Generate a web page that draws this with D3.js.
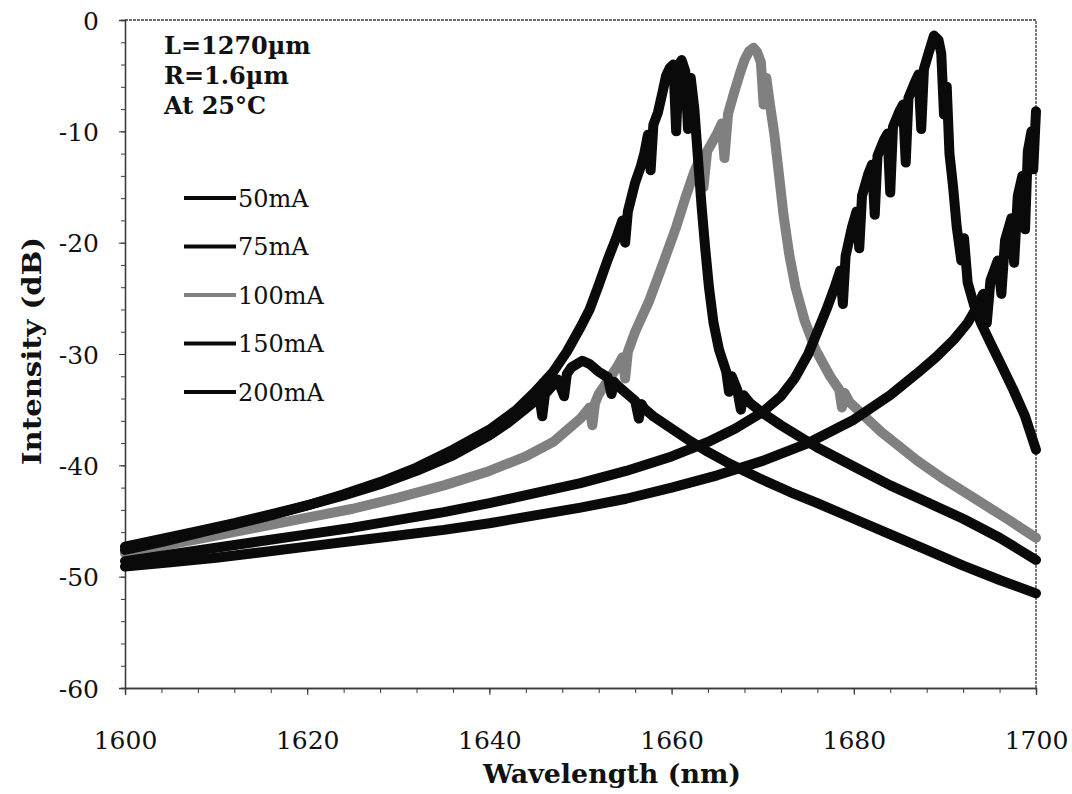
<!DOCTYPE html>
<html>
<head>
<meta charset="utf-8">
<script src="https://cdn.jsdelivr.net/npm/d3@7"></script>
<style>
  html, body { margin: 0; padding: 0; background: #fff; }
  svg { display: block; }
  .tick text { font-family: "DejaVu Serif", serif; font-size: 25px; fill: #111; }
</style>
</head>
<body>
<svg id="chart" width="1072" height="794"></svg>
<script>
// Axis ticks
const wavelengthTicks = [1600, 1620, 1640, 1660, 1680, 1700];
const intensityTicks = [0, -10, -20, -30, -40, -50, -60];

// Drive currents (legend order) and the colour used for each trace
const currents = ["50mA", "75mA", "100mA", "150mA", "200mA"];
const traceColors = ["#0a0a0a", "#0a0a0a", "#808080", "#0a0a0a", "#0a0a0a"];

// Header lines of the annotation box
const conditions = ["L=1270\u00b5m", "R=1.6\u00b5m", "At 25\u00b0C"];

// Emission spectra: [wavelength (nm), intensity (dB)]
const spectrum50mA = [
  [1600,-47.3],[1604,-46.6],[1608,-45.9],[1612,-45.2],[1616,-44.4],[1620,-43.6],[1624,-42.7],
  [1628,-41.7],[1632,-40.5],[1636,-39.1],[1640,-37.3],[1642,-36.2],[1644,-34.9],[1645.5,-33.9],
  [1645.8,-35.6],[1646.1,-33.6],[1647.5,-32.3],[1648.2,-33.8],[1648.5,-31.8],[1649,-31.2],
  [1650.2,-30.6],[1651,-30.9],[1652,-31.6],[1653,-32.1],[1653.4,-33.6],[1653.7,-32.5],[1654,-32.8],
  [1655,-33.5],[1656,-34.2],[1656.4,-35.8],[1656.7,-34.5],[1657,-34.9],[1658,-35.6],[1660,-36.7],
  [1662,-37.8],[1664,-38.8],[1666,-39.7],[1668,-40.5],[1670,-41.3],[1673,-42.4],[1676,-43.4],
  [1680,-44.8],[1684,-46.2],[1688,-47.6],[1692,-49.0],[1696,-50.3],[1700,-51.5]
];

const spectrum75mA = [
  [1600,-47.6],[1604,-46.9],[1608,-46.1],[1612,-45.3],[1616,-44.5],[1620,-43.6],[1624,-42.6],
  [1628,-41.5],[1632,-40.2],[1636,-38.6],[1640,-36.8],[1643,-35.0],[1645,-33.4],[1647,-31.6],
  [1648.5,-29.8],[1650,-27.6],[1651,-26.0],[1652,-23.8],[1653,-21.5],[1654,-19.4],[1654.6,-18.0],
  [1654.9,-20.0],[1655.2,-17.2],[1656,-14.6],[1656.6,-13.2],[1657,-12.0],[1657.4,-10.3],
  [1657.7,-13.5],[1658,-9.4],[1658.5,-8.3],[1659,-6.5],[1659.4,-5.0],[1659.8,-4.3],[1660.2,-4.0],
  [1660.5,-10.0],[1660.8,-4.0],[1661.1,-3.6],[1661.5,-4.6],[1661.8,-9.8],[1662.1,-5.2],
  [1662.5,-8.0],[1662.9,-12.5],[1663.3,-16.8],[1663.7,-20.6],[1664.1,-24.0],[1664.6,-27.2],
  [1665.2,-29.6],[1666,-31.6],[1666.3,-33.4],[1666.6,-32.0],[1667.2,-33.2],[1667.6,-35.0],
  [1667.9,-33.7],[1668.6,-34.4],[1670,-35.3],[1672,-36.4],[1676,-38.4],[1680,-40.1],
  [1684,-41.8],[1688,-43.3],[1692,-44.8],[1696,-46.5],[1700,-48.5]
];

const spectrum100mA = [
  [1600,-47.9],[1605,-47.1],[1610,-46.3],[1615,-45.5],[1620,-44.7],[1625,-43.9],[1630,-42.9],
  [1635,-41.8],[1640,-40.5],[1644,-39.2],[1647,-37.9],[1650,-35.8],[1651,-34.8],[1651.3,-36.4],
  [1651.6,-34.4],[1652,-33.6],[1654,-31.2],[1654.6,-30.3],[1654.9,-32.2],[1655.2,-29.8],
  [1656,-28.0],[1657.5,-25.3],[1659,-22.0],[1660.5,-18.6],[1661.5,-16.0],[1662.5,-13.6],
  [1663.2,-12.3],[1663.5,-15.0],[1663.9,-11.8],[1665,-10.2],[1665.5,-9.3],[1665.8,-12.4],
  [1666.2,-8.4],[1666.9,-6.4],[1667.5,-4.8],[1668,-3.6],[1668.5,-2.8],[1669,-2.5],[1669.4,-2.9],
  [1669.8,-3.8],[1670.1,-7.6],[1670.4,-5.2],[1670.8,-7.6],[1671.3,-10.4],[1671.8,-14.0],
  [1672.3,-17.6],[1672.9,-21.0],[1673.6,-24.0],[1674.6,-27.0],[1675.8,-29.6],[1677.4,-32.0],
  [1678.4,-33.2],[1678.7,-34.8],[1679,-33.5],[1679.5,-34.3],[1683,-37.0],[1687,-39.6],
  [1690,-41.3],[1693.5,-43.1],[1697,-44.9],[1700,-46.5]
];

const spectrum150mA = [
  [1600,-48.6],[1605,-48.0],[1610,-47.4],[1615,-46.8],[1620,-46.2],[1625,-45.6],[1630,-44.9],
  [1635,-44.2],[1640,-43.4],[1645,-42.5],[1650,-41.6],[1655,-40.5],[1660,-39.2],[1664,-37.9],
  [1667,-36.7],[1670,-35.2],[1672,-33.8],[1673.5,-32.2],[1675,-30.0],[1676,-28.0],[1677,-26.0],
  [1677.9,-24.0],[1678.5,-22.5],[1678.8,-25.5],[1679.1,-21.2],[1679.8,-18.6],[1680.3,-17.2],
  [1680.6,-20.5],[1680.9,-15.8],[1681.6,-13.8],[1682,-13.0],[1682.3,-17.5],[1682.6,-12.2],
  [1683.3,-10.8],[1683.7,-10.2],[1684,-15.5],[1684.3,-9.6],[1685,-8.2],[1685.4,-7.6],
  [1685.7,-12.8],[1686,-7.0],[1686.7,-5.6],[1687.1,-4.9],[1687.4,-9.8],[1687.7,-4.4],
  [1688.2,-3.0],[1688.8,-1.4],[1689.3,-1.8],[1689.6,-3.0],[1689.9,-8.5],[1690.2,-6.0],
  [1690.5,-12.0],[1690.9,-15.0],[1691.3,-18.6],[1691.8,-21.6],[1692.1,-19.6],[1692.5,-23.6],
  [1693.2,-25.6],[1694,-27.3],[1695,-29.0],[1696.2,-31.0],[1697.5,-33.2],[1698.8,-35.6],[1700,-38.6]
];

const spectrum200mA = [
  [1600,-49.1],[1605,-48.7],[1610,-48.3],[1615,-47.8],[1620,-47.3],[1625,-46.8],[1630,-46.3],
  [1635,-45.8],[1640,-45.2],[1645,-44.5],[1650,-43.8],[1655,-43.0],[1660,-42.0],[1665,-40.9],
  [1670,-39.6],[1675,-38.0],[1680,-35.9],[1684,-33.7],[1687,-31.7],[1689,-30.3],[1691,-28.7],
  [1692.5,-27.2],[1693.5,-25.8],[1694.2,-24.6],[1694.6,-27.2],[1695,-23.4],[1695.8,-21.6],
  [1696.2,-24.6],[1696.6,-19.8],[1697.3,-17.8],[1697.6,-21.8],[1698,-15.8],[1698.5,-14.0],
  [1698.8,-18.8],[1699.1,-11.8],[1699.5,-10.0],[1699.7,-13.4],[1700,-8.2]
];

const spectra = [spectrum50mA, spectrum75mA, spectrum100mA, spectrum150mA, spectrum200mA];

// ---- layout ----
const width = 1072, height = 794;
const margin = { top: 20, right: 36, bottom: 106, left: 125 };
const svg = d3.select("#chart");

const x = d3.scaleLinear().domain([1600, 1700]).range([margin.left, width - margin.right]);
const y = d3.scaleLinear().domain([-60, 0]).range([height - margin.bottom, margin.top]);

const axisColor = "#3a3a3a";

// plot frame (top and right edges)
svg.append("path")
  .attr("d", `M${x(1600)},${y(0)}H${x(1700)}V${y(-60)}`)
  .attr("fill", "none").attr("stroke", axisColor).attr("stroke-width", 1.3)
  .attr("stroke-dasharray", "3,1");

// minor x ticks every 4 nm
const xMinor = svg.append("g").attr("transform", `translate(0,${y(-60)})`)
  .call(d3.axisBottom(x).tickValues(d3.range(1600, 1701, 4)).tickSize(5).tickFormat(""));
// major x ticks and labels
const xMajor = svg.append("g").attr("transform", `translate(0,${y(-60)})`)
  .call(d3.axisBottom(x).tickValues(wavelengthTicks).tickSize(7).tickPadding(36)
    .tickFormat(d => String(d)));

// minor y ticks every 2 dB
const yMinor = svg.append("g").attr("transform", `translate(${x(1600)},0)`)
  .call(d3.axisLeft(y).tickValues(d3.range(-60, 1, 2)).tickSize(4).tickFormat(""));
const yMajor = svg.append("g").attr("transform", `translate(${x(1600)},0)`)
  .call(d3.axisLeft(y).tickValues(intensityTicks).tickSize(6).tickPadding(20)
    .tickFormat(d => String(d)));

[xMinor, xMajor, yMinor, yMajor].forEach(g => {
  g.select(".domain").attr("stroke", axisColor).attr("stroke-width", 1.3);
  g.selectAll(".tick line").attr("stroke", axisColor).attr("stroke-width", 1);
});
xMajor.selectAll(".tick text").attr("fill", "#111");
yMajor.selectAll(".tick text").attr("fill", "#111").attr("dy", "0.36em");

// ---- traces ----
const line = d3.line().x(d => x(d[0])).y(d => y(d[1]));
const drawOrder = [2, 4, 3, 1, 0];
svg.append("g").selectAll("path")
  .data(drawOrder)
  .join("path")
  .attr("d", i => line(spectra[i]))
  .attr("fill", "none")
  .attr("stroke", i => traceColors[i])
  .attr("stroke-width", 10)
  .attr("stroke-linejoin", "round")
  .attr("stroke-linecap", "round");

// ---- annotation and legend ----
const notes = svg.append("g")
  .attr("font-family", "DejaVu Serif, serif")
  .attr("font-weight", "bold")
  .attr("font-size", 24)
  .attr("fill", "#111");
notes.selectAll("text")
  .data(conditions)
  .join("text")
  .attr("x", 164)
  .attr("y", (d, i) => 54 + i * 30)
  .text(d => d);

const legend = svg.append("g");
const rows = legend.selectAll("g")
  .data(currents)
  .join("g")
  .attr("transform", (d, i) => `translate(0,${198 + i * 48.5})`);
rows.append("line")
  .attr("x1", 184).attr("x2", 236).attr("y1", 0).attr("y2", 0)
  .attr("stroke", (d, i) => traceColors[i])
  .attr("stroke-width", 4);
rows.append("text")
  .attr("x", 238).attr("y", 0).attr("dy", "0.36em")
  .attr("font-family", "DejaVu Serif, serif")
  .attr("font-size", 24)
  .attr("fill", "#111")
  .text(d => d);

// ---- axis titles ----
svg.append("text")
  .attr("x", 612)
  .attr("y", 783)
  .attr("text-anchor", "middle")
  .attr("font-family", "DejaVu Serif, serif")
  .attr("font-weight", "bold")
  .attr("font-size", 26)
  .attr("textLength", 258)
  .attr("lengthAdjust", "spacingAndGlyphs")
  .attr("fill", "#111")
  .text("Wavelength (nm)");

svg.append("text")
  .attr("transform", `translate(41,351) rotate(-90)`)
  .attr("text-anchor", "middle")
  .attr("font-family", "DejaVu Serif, serif")
  .attr("font-weight", "bold")
  .attr("font-size", 26)
  .attr("textLength", 228)
  .attr("lengthAdjust", "spacingAndGlyphs")
  .attr("fill", "#111")
  .text("Intensity (dB)");
</script>
</body>
</html>
